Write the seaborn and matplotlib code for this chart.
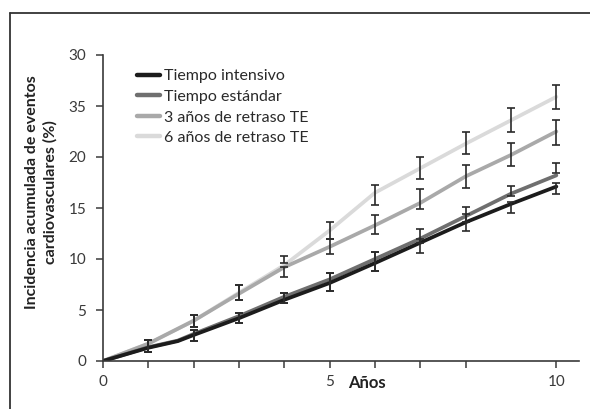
import matplotlib
matplotlib.use("Agg")
import matplotlib.pyplot as plt
from matplotlib.lines import Line2D
import seaborn as sns
import pandas as pd
import numpy as np

# ---- data ----
series_names = ["Tiempo intensivo", "Tiempo estándar",
                "3 años de retraso TE", "6 años de retraso TE"]
series_colors = ["#1c1c1c", "#6f6f6f", "#a9a9a9", "#dadada"]

x_int = [0, 1, 1.65, 2, 3, 4, 5, 6, 7, 8, 9, 10]
y_int = [0, 1.3, 1.95, 2.55, 4.2, 6.0, 7.65, 9.6, 11.6, 13.6, 15.4, 17.1]
x_std = [0, 1, 1.65, 2, 3, 4, 5, 6, 7, 8, 9, 10]
y_std = [0, 1.35, 2.0, 2.65, 4.4, 6.3, 8.0, 10.0, 12.0, 14.2, 16.4, 18.2]
x_3 = [0, 1, 2, 3, 4, 5, 6, 7, 8, 9, 10]
y_3 = [0, 1.7, 3.95, 6.6, 9.2, 11.2, 13.3, 15.5, 18.1, 20.2, 22.5]
x_6 = [0, 1, 2, 3, 4, 5, 6, 7, 8, 9, 10]
y_6 = [0, 1.7, 3.95, 6.7, 9.4, 12.8, 16.5, 18.9, 21.3, 23.6, 25.9]

err_x = [1, 2, 3, 4, 5, 6, 7, 8, 9, 10]
err_int_lo = [0.85, 2.0, 3.7, 5.7, 6.9, 8.8, 10.55, 12.7, 14.55, 16.35]
err_int_hi = [2.1, 3.05, 4.75, 6.7, 8.6, 10.7, 11.95, 14.4, 15.6, 17.5]
err_std_lo = [0.85, 2.0, 3.7, 5.7, 6.9, 8.8, 11.55, 13.65, 16.2, 18.4]
err_std_hi = [2.1, 3.05, 4.75, 6.7, 8.6, 10.7, 12.9, 15.05, 17.2, 19.4]
err_3_lo = [0.85, 3.3, 5.95, 8.25, 10.5, 12.5, 14.9, 17.0, 19.1, 21.2]
err_3_hi = [2.1, 4.5, 7.5, 9.25, 11.95, 14.3, 16.9, 19.2, 21.4, 23.6]
err_6_lo = [0.85, 3.3, 5.95, 9.65, 11.95, 15.3, 17.85, 20.3, 22.5, 24.7]
err_6_hi = [2.1, 4.5, 7.5, 10.3, 13.65, 17.3, 20.0, 22.5, 24.8, 27.1]

x_ticks = [0, 1, 2, 3, 4, 5, 6, 7, 8, 10]
x_ticklabels = ["0", "", "", "", "", "5", "", "", "", "10"]
y_ticks = [0, 5, 10, 15, 20, 25, 30]
y_ticklabels = ["0", "5", "10", "15", "20", "35", "30"]

x_label = "Años"
y_label = "Incidencia acumulada de eventos\ncardiovasculares (%)"

# ---- build table ----
frames = []
for name, xs, ys in zip(series_names, [x_int, x_std, x_3, x_6],
                        [y_int, y_std, y_3, y_6]):
    frames.append(pd.DataFrame({"x": xs, "y": ys, "serie": name}))
df = pd.concat(frames, ignore_index=True)

sns.set_theme(style="white")
plt.rcParams["font.family"] = ["Lato", "DejaVu Sans"]

fig = plt.figure(figsize=(5.9, 4.09), dpi=100)
W, H = 590, 409
ax = fig.add_axes([103 / W, 1 - 361 / H, (579 - 103) / W, (361 - 55) / H])

hue_order_draw = series_names[::-1]
palette = dict(zip(series_names, series_colors))
sns.lineplot(data=df, x="x", y="y", hue="serie", hue_order=hue_order_draw,
             palette=palette, linewidth=2.7, ax=ax, legend=False,
             estimator=None, sort=True)

ecol = "#2a2a2a"
for lo, hi in [(err_6_lo, err_6_hi), (err_3_lo, err_3_hi),
               (err_std_lo, err_std_hi), (err_int_lo, err_int_hi)]:
    lo = np.array(lo); hi = np.array(hi)
    mid = (lo + hi) / 2
    ax.errorbar(err_x, mid, yerr=[mid - lo, hi - mid], fmt="none",
                ecolor=ecol, elinewidth=1.2, capsize=3.2, capthick=1.2,
                zorder=5)

ax.set_xlim(0, 10.5)
ax.set_ylim(0, 30)
ax.set_xticks(x_ticks)
ax.set_xticklabels(x_ticklabels)
ax.set_yticks(y_ticks)
ax.set_yticklabels(y_ticklabels)
ax.tick_params(axis="both", direction="out", length=5, width=1.1,
               color="#3a3a3a", labelcolor="#3a3a3a", labelsize=11, pad=5,
               bottom=True, left=True)
ax.tick_params(axis="y", pad=7)
sns.despine(ax=ax)
for s in ["left", "bottom"]:
    ax.spines[s].set_color("#3a3a3a")
    ax.spines[s].set_linewidth(1.2)
ax.set_xlabel("")
ax.set_ylabel("")

fig.text(367 / W, 1 - 383 / H, x_label, ha="center", va="center",
         fontsize=12, fontweight="bold", color="#222222")
fig.text(41 / W, 1 - 192 / H, y_label, ha="center", va="center",
         rotation=90, fontsize=11.5, fontweight="bold", color="#222222",
         linespacing=1.35, multialignment="center")

handles = [Line2D([0], [0], color=c, lw=3.2) for c in series_colors]
leg = ax.legend(handles, series_names, loc="upper left",
                bbox_to_anchor=((126 - 103) / 476, (361 - 58) / 306),
                frameon=False, fontsize=11.5, handlelength=1.45,
                handletextpad=0.2, labelspacing=0.4, borderpad=0.2)
for t in leg.get_texts():
    t.set_color("#2a2a2a")

# outer frame (left and top edges)
fig.add_artist(Line2D([10 / W, 10 / W], [0, 1 - 13 / H], color="#333333",
                      lw=1.3, transform=fig.transFigure))
fig.add_artist(Line2D([10 / W, 1], [1 - 13 / H, 1 - 13 / H], color="#333333",
                      lw=1.3, transform=fig.transFigure))

fig.savefig("out.png", dpi=100)
